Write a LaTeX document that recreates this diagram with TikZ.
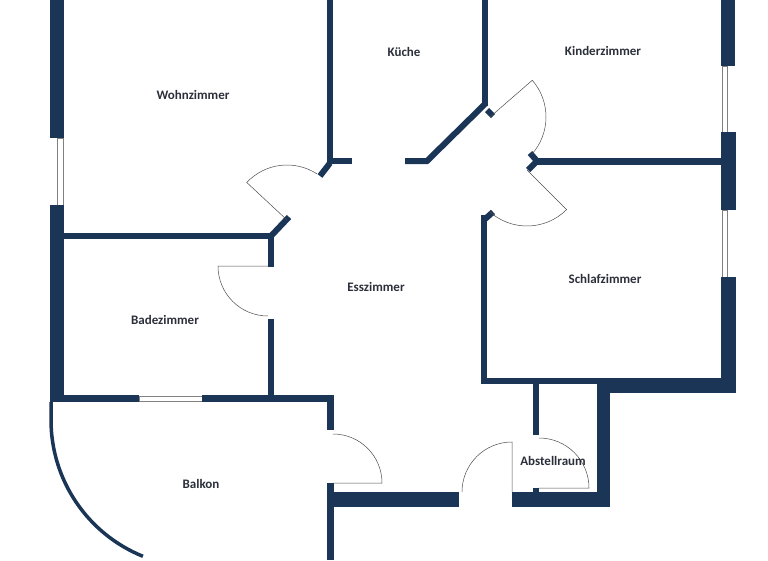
\documentclass[tikz,border=0pt]{standalone}
\usepackage{fontspec}
\setmainfont{Carlito}
\definecolor{wallc}{HTML}{1B3557}
\definecolor{txtc}{HTML}{2A2F3A}
\begin{document}
\begin{tikzpicture}[x=1pt,y=-1pt,
  wall/.style={fill=wallc},
  dwall/.style={draw=wallc,line width=6pt},
  doorl/.style={draw=black!70,line width=0.5pt},
  win/.style={draw=black!50,line width=0.5pt,fill=white},
  lbl/.style={font=\bfseries\fontsize{13}{15}\selectfont,text=txtc}]
\useasboundingbox (0,0) rectangle (768,560);
% outer left
\fill[wall] (50,0) rectangle (64,138);
\draw[win] (57,138) rectangle (63,205);
\fill[wall] (50,205) rectangle (64,402);
% Wohnzimmer right wall
\fill[wall] (327,0) rectangle (333,164);
\fill[wall] (327,158) rectangle (352,164);
\draw[dwall] (330,163) -- (320,176);
\draw[dwall] (289,217) -- (271,236);
\fill[wall] (64,233) rectangle (274,239);
\fill[wall] (268,233) rectangle (274,267);
\fill[wall] (268,319) rectangle (274,400);
% Badezimmer/Balkon wall
\fill[wall] (50,395) rectangle (139,402);
\draw[win] (139,396) rectangle (202,401);
\fill[wall] (202,395) rectangle (334,402);
\fill[wall] (327,395) rectangle (334,430);
\fill[wall] (327,483) rectangle (334,560);
\fill[wall] (327,492) rectangle (459,507);
\fill[wall] (512,492) rectangle (610,507);
% balcony arc
\draw[draw=wallc,line width=3.5pt] (51,402) -- (51,420) arc[start angle=180,end angle=112,radius=147];
% Küche / Kinderzimmer
\fill[wall] (482,0) rectangle (488,106);
\draw[dwall] (485,104) -- (427,161) -- (405,161);
\draw[dwall] (487,110) -- (493,116);
\fill[wall] (535,158) rectangle (724,165);
\draw[dwall] (530,153) -- (537,161);
\draw[dwall] (537,161) -- (528,170);
% Schlafzimmer
\draw[dwall] (493,212) -- (484,220);
\fill[wall] (481,215) rectangle (487,384);
\fill[wall] (481,378) rectangle (724,384);
\fill[wall] (597,378) rectangle (736,393);
% right outer wall
\fill[wall] (721,0) rectangle (735,66);
\draw[win] (722,66) rectangle (727,132);
\fill[wall] (721,132) rectangle (736,210);
\draw[win] (722,210) rectangle (727,277);
\fill[wall] (721,277) rectangle (736,393);
% Abstellraum
\fill[wall] (533,384) rectangle (539,435);
\fill[wall] (533,488) rectangle (539,493);
\fill[wall] (597,384) rectangle (610,507);
% doors
\coordinate (h1) at (287,220);
\draw[doorl] (h1) -- ++(-137:55) arc[start angle=-137,end angle=-57,radius=55];
\coordinate (h2) at (490,117);
\draw[doorl] (h2) -- ++(-41:56) arc[start angle=-41,end angle=42,radius=56];
\coordinate (h3) at (527,170);
\draw[doorl] (h3) -- ++(45:56) arc[start angle=45,end angle=133,radius=56];
\coordinate (h4) at (268,266);
\draw[doorl] (h4) -- ++(180:50) arc[start angle=180,end angle=90,radius=50];
\coordinate (h5) at (333,483);
\draw[doorl] (h5) -- ++(0:49) arc[start angle=0,end angle=-90,radius=49];
\coordinate (h6) at (512,492);
\draw[doorl] (h6) -- ++(-90:50) arc[start angle=-90,end angle=-180,radius=50];
\coordinate (h7) at (539,488);
\draw[doorl] (h7) -- ++(0:50) arc[start angle=0,end angle=-90,radius=50];
% labels
\node[lbl] (wz) at (193,95) {Wohnzimmer};
\node[lbl] (ku) at (404,52) {Küche};
\node[lbl] (kz) at (603,51) {Kinderzimmer};
\node[lbl] (ez) at (376,287) {Esszimmer};
\node[lbl] (sz) at (605,279) {Schlafzimmer};
\node[lbl] (bz) at (165,320) {Badezimmer};
\node[lbl] (bk) at (201,484) {Balkon};
\node[lbl] (ar) at (553,461) {Abstellraum};
\end{tikzpicture}
\end{document}
